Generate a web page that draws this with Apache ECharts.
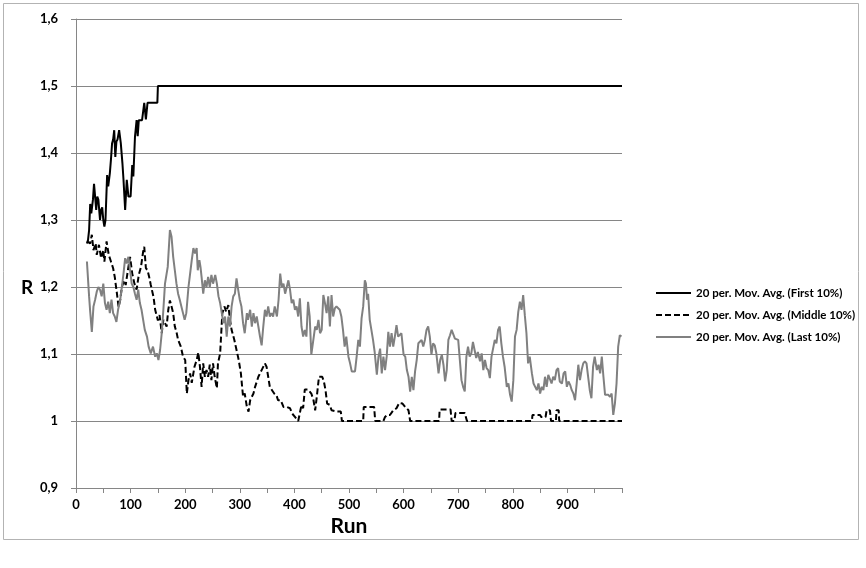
<!DOCTYPE html>
<html>
<head>
<meta charset="utf-8">
<script src="https://cdn.jsdelivr.net/npm/echarts@6/dist/echarts.min.js"></script>
<style>
html,body{margin:0;padding:0;background:#fff;}
#chart{width:866px;height:568px;}
</style>
</head>
<body>
<div id="chart"></div>
<script>
// ---- Data ----
const seriesNames = ['20 per. Mov. Avg. (First 10%)', '20 per. Mov. Avg. (Middle 10%)', '20 per. Mov. Avg. (Last 10%)'];

const firstRuns = [20,22,24,26,28,31,33,35,37,39,41,44,46,48,50,52,54,57,59,62,64,66,68,70,72,74,76,79,82,85,87,90,93,96,100,103,105,108,111,113,115,118,121,123,125,128,131,149,150,1000];
const firstVals = [1.265,1.27,1.285,1.324,1.31,1.33,1.354,1.335,1.315,1.335,1.33,1.30,1.315,1.319,1.30,1.29,1.30,1.367,1.35,1.37,1.39,1.414,1.42,1.434,1.394,1.417,1.42,1.434,1.415,1.385,1.36,1.315,1.36,1.335,1.335,1.382,1.365,1.424,1.449,1.425,1.449,1.449,1.449,1.45,1.475,1.45,1.475,1.475,1.5,1.5];

const middleRuns = [20,26,29,32,36,38,42,46,50,52,56,60,64,68,71,75,78,81,84,88,91,96,99,103,107,111,115,119,123,125,128,131,134,137,142,145,150,153,157,160,163,166,169,172,175,178,181,184,187,192,196,200,203,206,209,212,217,221,224,227,230,233,236,239,242,245,248,251,254,258,260,264,266,268,272,275,279,282,285,290,294,298,302,306,309,313,316,319,325,328,334,340,346,349,352,355,359,363,367,370,375,380,386,392,396,401,407,410,413,416,419,425,431,435,438,441,445,451,454,457,460,465,468,471,478,485,487,526,527,546,548,563,566,570,575,581,587,592,598,603,609,612,665,666,686,688,693,695,712,716,835,836,850,852,860,862,868,870,879,880,884,885,1000];
const middleVals = [1.268,1.265,1.278,1.255,1.265,1.248,1.263,1.243,1.255,1.238,1.268,1.248,1.238,1.228,1.215,1.19,1.17,1.181,1.20,1.21,1.203,1.23,1.245,1.22,1.205,1.196,1.218,1.23,1.253,1.26,1.228,1.225,1.215,1.203,1.185,1.166,1.15,1.158,1.131,1.151,1.146,1.141,1.166,1.18,1.171,1.161,1.141,1.133,1.121,1.111,1.096,1.091,1.041,1.061,1.071,1.057,1.081,1.091,1.102,1.081,1.051,1.086,1.066,1.076,1.066,1.084,1.061,1.086,1.066,1.049,1.086,1.101,1.131,1.161,1.171,1.163,1.173,1.151,1.136,1.121,1.106,1.091,1.071,1.036,1.041,1.021,1.014,1.031,1.041,1.051,1.066,1.076,1.086,1.081,1.066,1.051,1.046,1.041,1.039,1.031,1.031,1.021,1.021,1.019,1.011,1.006,1.0,1.0,1.024,1.019,1.047,1.047,1.041,1.031,1.016,1.036,1.066,1.066,1.059,1.046,1.026,1.024,1.016,1.014,1.014,1.014,1.0,1.0,1.021,1.021,1.0,1.0,1.006,1.009,1.009,1.016,1.019,1.027,1.026,1.021,1.016,1.0,1.0,1.017,1.017,1.0,1.0,1.012,1.012,1.0,1.0,1.009,1.009,1.006,1.006,1.016,1.016,1.0,1.0,1.016,1.016,1.0,1.0];

const lastRuns = [20,24,26,29,32,35,38,41,44,47,50,53,56,59,62,65,68,71,74,77,81,84,87,90,93,96,99,102,105,108,111,114,117,120,123,126,130,133,137,141,145,148,151,154,157,160,163,168,172,175,178,181,184,187,190,193,196,199,202,206,209,212,215,218,221,223,226,228,230,233,236,239,242,245,248,251,255,258,261,264,267,270,273,276,279,282,285,288,291,294,297,300,303,306,309,313,315,319,322,325,328,331,334,337,340,343,346,349,352,355,358,361,364,368,371,374,377,380,383,386,389,392,395,398,401,404,407,410,413,416,419,422,425,428,431,434,438,441,444,447,450,453,456,459,462,465,468,471,474,477,480,483,486,489,492,495,499,502,505,508,511,514,517,520,523,526,529,531,533,535,538,541,544,547,551,554,557,560,563,566,569,572,575,578,581,584,587,590,593,596,600,603,606,609,612,615,618,621,624,627,630,633,636,639,642,645,648,651,654,657,660,664,667,670,673,676,679,682,685,688,691,694,697,700,703,706,709,712,715,718,721,724,727,730,733,736,740,743,746,749,752,755,758,761,764,767,770,773,776,779,782,785,789,792,795,798,801,804,807,810,813,816,819,822,825,828,831,835,838,841,844,847,850,853,856,859,862,865,868,871,874,877,880,883,886,890,893,896,899,902,905,908,911,914,917,920,923,926,929,932,935,938,941,944,947,950,954,957,960,963,966,969,975,978,981,984,987,990,993,996,999];
const lastVals = [1.238,1.186,1.163,1.133,1.171,1.181,1.193,1.20,1.196,1.186,1.205,1.176,1.166,1.178,1.161,1.181,1.161,1.156,1.148,1.166,1.181,1.20,1.22,1.243,1.235,1.245,1.225,1.205,1.20,1.19,1.181,1.196,1.176,1.166,1.151,1.136,1.126,1.111,1.101,1.111,1.096,1.101,1.091,1.106,1.131,1.166,1.205,1.23,1.285,1.275,1.245,1.225,1.205,1.19,1.181,1.171,1.161,1.151,1.161,1.20,1.22,1.24,1.258,1.25,1.258,1.225,1.24,1.23,1.215,1.19,1.21,1.20,1.215,1.20,1.218,1.205,1.218,1.205,1.186,1.176,1.161,1.146,1.156,1.126,1.156,1.141,1.171,1.186,1.19,1.213,1.196,1.181,1.171,1.146,1.131,1.161,1.151,1.166,1.141,1.161,1.146,1.156,1.141,1.126,1.113,1.141,1.166,1.156,1.171,1.156,1.161,1.156,1.171,1.156,1.181,1.22,1.20,1.205,1.19,1.20,1.21,1.196,1.176,1.181,1.166,1.171,1.156,1.183,1.141,1.126,1.136,1.126,1.178,1.156,1.099,1.099,1.141,1.136,1.151,1.131,1.136,1.188,1.176,1.161,1.186,1.141,1.188,1.156,1.168,1.171,1.173,1.166,1.156,1.136,1.111,1.126,1.096,1.086,1.074,1.076,1.074,1.096,1.121,1.111,1.153,1.171,1.21,1.205,1.181,1.19,1.151,1.136,1.121,1.103,1.069,1.096,1.108,1.071,1.096,1.076,1.096,1.133,1.111,1.131,1.111,1.126,1.143,1.126,1.128,1.131,1.099,1.096,1.076,1.066,1.044,1.066,1.046,1.074,1.091,1.116,1.116,1.121,1.111,1.121,1.136,1.141,1.126,1.099,1.116,1.113,1.101,1.071,1.091,1.099,1.084,1.059,1.076,1.121,1.128,1.136,1.138,1.123,1.124,1.121,1.091,1.061,1.051,1.044,1.096,1.111,1.096,1.101,1.118,1.106,1.094,1.103,1.089,1.101,1.076,1.091,1.079,1.076,1.064,1.096,1.094,1.121,1.116,1.136,1.141,1.116,1.096,1.081,1.051,1.056,1.039,1.029,1.061,1.126,1.136,1.163,1.178,1.166,1.188,1.158,1.131,1.086,1.096,1.071,1.056,1.051,1.046,1.056,1.041,1.051,1.046,1.066,1.051,1.069,1.071,1.056,1.066,1.061,1.076,1.079,1.059,1.056,1.071,1.074,1.051,1.059,1.054,1.046,1.041,1.031,1.056,1.084,1.061,1.076,1.086,1.089,1.086,1.066,1.046,1.034,1.081,1.096,1.076,1.084,1.071,1.096,1.066,1.039,1.039,1.036,1.041,1.009,1.026,1.056,1.111,1.128,1.126];

// ---- Axis ----
const xMin = 0, xMax = 1000, xTickStep = 50, xLabelStep = 100;
const yMin = 0.9, yMax = 1.6, yStep = 0.1;
const xTitle = 'Run', yTitle = 'R';

function zip(runs, vals) { return runs.map((r, i) => [r, vals[i]]); }

const chart = echarts.init(document.getElementById('chart'), null, { renderer: 'canvas' });
const FONT = 'Lato, "Liberation Sans", sans-serif';

chart.setOption({
  animation: false,
  backgroundColor: '#ffffff',
  graphic: [
    {
      type: 'rect', left: 1, top: 1,
      shape: { width: 855, height: 536 },
      style: { fill: 'none', stroke: '#b3b3b3', lineWidth: 1 },
      silent: true
    },
    {
      type: 'text', left: 21, top: 278,
      style: { text: yTitle, font: 'bold 19px ' + FONT, fill: '#000' },
      silent: true
    }
  ],
  grid: { left: 76, right: 244, top: 19, bottom: 80, containLabel: false },
  legend: {
    orient: 'vertical', left: 650, top: 282,
    itemWidth: 35, itemHeight: 12, itemGap: 10,
    itemStyle: { opacity: 0 },
    textStyle: { fontFamily: FONT, fontWeight: 'bold', fontSize: 11.5, color: '#000' },
    data: seriesNames
  },
  xAxis: {
    type: 'value', min: xMin, max: xMax, interval: xTickStep,
    name: xTitle, nameLocation: 'middle', nameGap: 24,
    nameTextStyle: { fontFamily: FONT, fontWeight: 'bold', fontSize: 21, color: '#000' },
    axisLine: { show: true, lineStyle: { color: '#868686', width: 1 } },
    axisTick: { show: true, length: 5, lineStyle: { color: '#868686' } },
    splitLine: { show: false },
    axisLabel: {
      margin: 10, fontFamily: FONT, fontWeight: 'bold', fontSize: 13, color: '#000',
      formatter: v => (v % xLabelStep === 0 && v < xMax) ? String(v) : ''
    }
  },
  yAxis: {
    type: 'value', min: yMin, max: yMax, interval: yStep,
    axisLine: { show: true, lineStyle: { color: '#868686', width: 1 } },
    axisTick: { show: true, length: 5, lineStyle: { color: '#868686' } },
    splitLine: { show: true, lineStyle: { color: '#868686', width: 1 } },
    axisLabel: {
      margin: 18, fontFamily: FONT, fontWeight: 'bold', fontSize: 13, color: '#000',
      formatter: v => String(Math.round(v * 10) / 10).replace('.', ',')
    }
  },
  series: [
    { name: seriesNames[0], type: 'line', data: zip(firstRuns, firstVals), showSymbol: false, symbol: 'none',
      lineStyle: { color: '#000000', width: 2 }, itemStyle: { color: '#000000' } },
    { name: seriesNames[1], type: 'line', data: zip(middleRuns, middleVals), showSymbol: false, symbol: 'none',
      lineStyle: { color: '#000000', width: 2, type: [6, 3] }, itemStyle: { color: '#000000' } },
    { name: seriesNames[2], type: 'line', data: zip(lastRuns, lastVals), showSymbol: false, symbol: 'none',
      lineStyle: { color: '#808080', width: 2 }, itemStyle: { color: '#808080' } }
  ]
});
</script>
</body>
</html>
